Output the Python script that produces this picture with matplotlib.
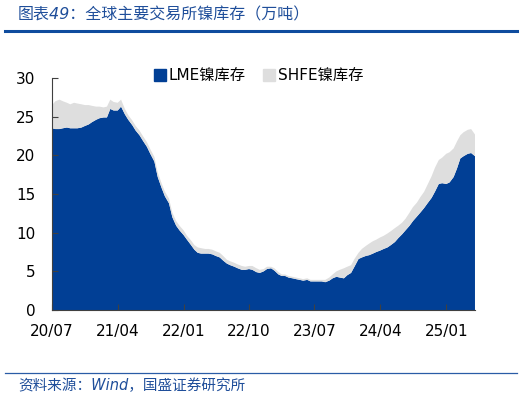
import matplotlib
matplotlib.use("Agg")
import matplotlib.pyplot as plt
import matplotlib.dates as mdates
import pandas as pd
from matplotlib.lines import Line2D

plt.rcParams['font.family'] = ['DejaVu Sans', 'Noto Sans CJK SC']

# semi-monthly observations from 2020-07-01 to 2025-05-01 (万吨)
dates = pd.date_range('2020-07-01', periods=117, freq='SMS')

lme = [23.5, 23.4, 23.4, 23.5, 23.6, 23.5, 23.5, 23.5, 23.6, 23.8,
       24.0, 24.3, 24.6, 24.8, 24.9, 24.9, 26.0, 25.8, 25.8, 26.3,
       25.3, 24.6, 23.9, 23.2, 22.6, 21.9, 21.1, 20.2, 19.2, 17.2,
       15.8, 14.7, 13.8, 12.0, 10.9, 10.3, 9.7, 9.1, 8.4, 7.8,
       7.4, 7.3, 7.3, 7.3, 7.2, 7.0, 6.8, 6.4, 6.0, 5.8,
       5.6, 5.4, 5.2, 5.2, 5.3, 5.2, 4.9, 4.8, 5.0, 5.3,
       5.4, 5.1, 4.6, 4.4, 4.4, 4.2, 4.1, 4.0, 3.9, 3.8,
       3.9, 3.7, 3.7, 3.7, 3.7, 3.6, 3.8, 4.1, 4.3, 4.2,
       4.1, 4.5, 4.8, 5.6, 6.6, 6.8, 7.0, 7.1, 7.3, 7.5,
       7.7, 7.9, 8.1, 8.4, 8.8, 9.3, 9.8, 10.3, 10.9, 11.5,
       12.1, 12.6, 13.2, 13.8, 14.5, 15.3, 16.3, 16.4, 16.3, 16.5,
       17.2, 18.3, 19.6, 19.9, 20.2, 20.3, 19.9]

shfe = [3.0, 3.6, 3.8, 3.5, 3.2, 3.1, 3.3, 3.2, 3.0, 2.7,
        2.5, 2.1, 1.7, 1.5, 1.3, 1.4, 1.2, 1.1, 1.0, 0.9,
        0.7, 0.6, 0.6, 0.6, 0.6, 0.6, 0.6, 0.6, 0.6, 0.6,
        0.6, 0.6, 0.6, 0.6, 0.6, 0.6, 0.6, 0.5, 0.6, 0.6,
        0.7, 0.7, 0.6, 0.6, 0.6, 0.6, 0.6, 0.6, 0.5, 0.5,
        0.5, 0.5, 0.5, 0.4, 0.4, 0.5, 0.5, 0.4, 0.3, 0.3,
        0.2, 0.3, 0.3, 0.2, 0.2, 0.2, 0.2, 0.2, 0.2, 0.2,
        0.2, 0.2, 0.2, 0.2, 0.2, 0.3, 0.4, 0.5, 0.7, 1.0,
        1.3, 1.1, 1.0, 1.0, 0.8, 1.1, 1.3, 1.5, 1.6, 1.6,
        1.7, 1.7, 1.8, 1.8, 1.8, 1.6, 1.5, 1.5, 1.7, 1.8,
        1.8, 2.0, 2.1, 2.4, 2.8, 3.1, 3.1, 3.3, 3.9, 3.9,
        3.7, 3.5, 3.0, 3.1, 3.1, 3.1, 2.8]

series_labels = ['LME镍库存', 'SHFE镍库存']
tick_dates = ['2020-07-01', '2021-04-01', '2022-01-01', '2022-10-01',
              '2023-07-01', '2024-04-01', '2025-01-01']
yticks = [0, 5, 10, 15, 20, 25, 30]

title = '图表49：全球主要交易所镍库存（万吨）'
source = '资料来源：Wind，国盛证券研究所'

blue = '#013F95'
gray = '#DEDEDE'
text_blue = '#1F4E9A'

fig = plt.figure(figsize=(5.26, 3.98), dpi=100)
ax = fig.add_axes([0.099, 0.221, 0.804, 0.583])

ax.stackplot(dates, lme, shfe, colors=[blue, gray], linewidth=0)

ax.set_xlim(dates[0], dates[-1])
ax.set_ylim(0, 30)
ax.set_yticks(yticks)
ax.set_xticks(pd.to_datetime(tick_dates))
ax.xaxis.set_major_formatter(mdates.DateFormatter('%y/%m'))

for s in ['top', 'right']:
    ax.spines[s].set_visible(False)
for s in ['left', 'bottom']:
    ax.spines[s].set_color('#404040')
    ax.spines[s].set_linewidth(0.8)
ax.tick_params(axis='both', direction='in', length=4, width=0.8,
               color='#404040', labelsize=11, labelcolor='black')
ax.tick_params(axis='x', pad=10)
ax.tick_params(axis='y', pad=12)

handles = [Line2D([], [], marker='s', linestyle='', markersize=8,
                  markerfacecolor=c, markeredgecolor=c) for c in [blue, gray]]
ax.legend(handles, series_labels, loc='center left',
          bbox_to_anchor=(0.295, 0.81), bbox_transform=fig.transFigure,
          ncol=2, frameon=False, fontsize=11, handlelength=0.6,
          handletextpad=0.3, columnspacing=1.2, borderpad=0, borderaxespad=0)

fig.text(0.034, 0.962, title, fontsize=11.5, color=text_blue,
         ha='left', va='center', style='italic',
         family=['DejaVu Sans', 'Noto Sans CJK SC'])
fig.add_artist(Line2D([0.01, 0.983], [0.922, 0.922], color='#0F4C9E', linewidth=2.2))
fig.add_artist(Line2D([0.01, 0.983], [0.063, 0.063], color='#2A5CA6', linewidth=0.9))
fig.text(0.034, 0.032, source, fontsize=10.5, color=text_blue,
         ha='left', va='center', style='italic',
         family=['DejaVu Sans', 'Noto Sans CJK SC'])

fig.savefig('out.png', dpi=100, facecolor='white')
